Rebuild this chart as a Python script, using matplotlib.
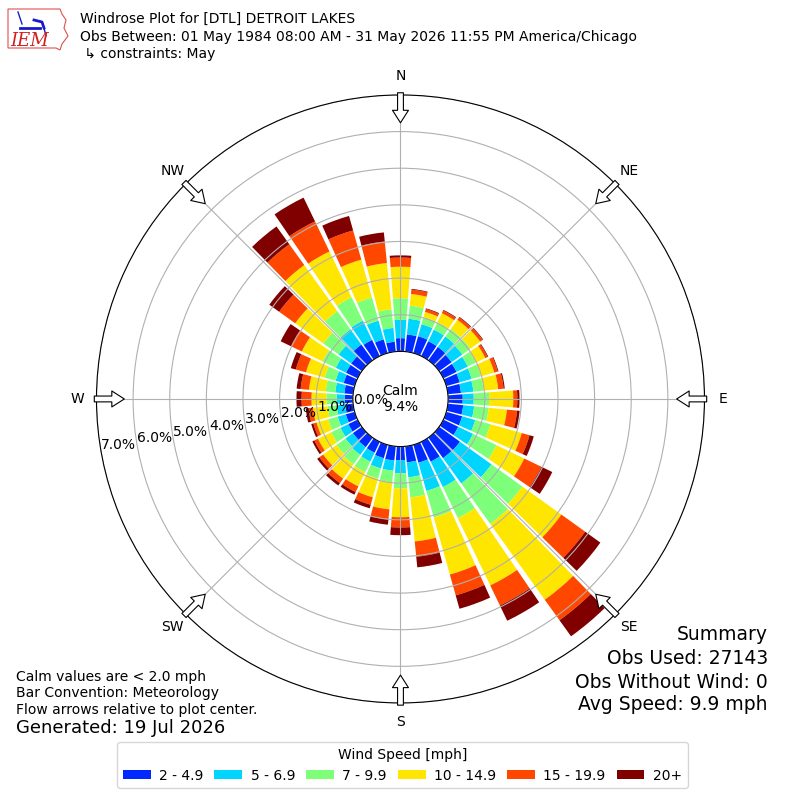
import numpy as np
import matplotlib
matplotlib.use("Agg")
import matplotlib.pyplot as plt
from matplotlib.patches import Patch, Polygon

# wind directions (deg, meteorological) and speed bins
directions = np.arange(0, 360, 10)
bin_labels = ["2 - 4.9", "5 - 6.9", "7 - 9.9", "10 - 14.9", "15 - 19.9", "20+"]

# cumulative frequency [%] up to the top of each speed bin, per direction
cum_2_5 = [.36, .47, .48, .45, .45, .42, .40, .38, .36, .40, .42, .45, .45, .70, .69, .60, .51, .44,
           .37, .39, .38, .33, .32, .30, .28, .25, .22, .22, .24, .31, .35, .36, .53, .49, .39, .27]
cum_5_7 = [.86, .90, .82, .80, .80, .78, .74, .72, .70, .70, .72, .82, .90, 1.76, 1.54, 1.37, 1.31, .85,
           .73, .67, .67, .60, .58, .55, .52, .48, .45, .44, .49, .54, .66, .78, 1.04, 1.07, .92, .65]
cum_7_10 = [1.45, 1.26, 1.02, 1.02, 1.05, 1.05, .98, .98, .98, 1.12, 1.12, 1.25, 1.61, 2.80, 2.90, 2.31, 2.06, 1.40,
            1.14, .99, .96, .92, .90, .85, .80, .75, .70, .72, .75, .85, 1.06, 1.29, 1.65, 1.78, 1.58, 1.16]
cum_10_15 = [2.31, 1.58, 1.17, 1.30, 1.36, 1.38, 1.27, 1.36, 1.38, 1.78, 1.62, 2.14, 2.45, 4.11, 5.45, 4.35, 3.68, 2.61,
             1.93, 1.73, 1.49, 1.35, 1.38, 1.30, 1.20, 1.08, 1.10, 1.13, 1.21, 1.38, 1.69, 2.24, 3.20, 3.17, 2.65, 2.43]
cum_15_20 = [2.56, 1.70, 1.25, 1.38, 1.44, 1.46, 1.34, 1.46, 1.53, 1.89, 1.90, 2.36, 2.97, 4.91, 6.14, 4.96, 4.27, 3.03,
             2.21, 2.01, 1.70, 1.52, 1.53, 1.43, 1.31, 1.17, 1.22, 1.40, 1.44, 1.67, 2.02, 2.78, 3.90, 4.08, 3.48, 3.02]
cum_20p = [2.62, 1.72, 1.27, 1.40, 1.46, 1.48, 1.36, 1.48, 1.56, 1.95, 1.97, 2.48, 3.30, 5.42, 6.68, 5.42, 4.65, 3.32,
           2.42, 2.15, 1.80, 1.60, 1.61, 1.50, 1.37, 1.23, 1.30, 1.54, 1.55, 1.81, 2.33, 3.11, 4.50, 4.80, 3.89, 3.27]

calm_pct = 9.4
ring_ticks = [0, 1, 2, 3, 4, 5, 6, 7]
compass = ["N", "NE", "E", "SE", "S", "SW", "W", "NW"]

colors = plt.cm.jet(np.linspace(0, 1, 7)[1:])

fig = plt.figure(figsize=(8, 8), dpi=100)
ax = fig.add_axes([0.1206, 0.1213, 0.76, 0.76], projection="polar")
ax.set_theta_zero_location("N")
ax.set_theta_direction(-1)

theta = np.deg2rad(directions)
cums = [cum_2_5, cum_5_7, cum_7_10, cum_10_15, cum_15_20, cum_20p]
bottom = np.zeros(len(directions))
for c, col in zip(cums, colors):
    top = np.array(c)
    ax.bar(theta, top - bottom, width=np.deg2rad(10) * 0.86, bottom=bottom,
           color=col, linewidth=0)
    bottom = top

ax.set_ylim(0, 7)
ax.set_rorigin(-1.30)
ax.set_yticks(ring_ticks)
ax.set_yticklabels(["%.1f%%" % v for v in ring_ticks])
ax.set_rlabel_position(260)
ax.set_thetagrids(np.arange(0, 360, 45), compass)
ax.tick_params(axis="x", pad=3)
ax.grid(True, color="#b0b0b0", lw=0.8)
ax.spines["polar"].set_color("black")
ax.spines["inner"].set_color("black")

ax.text(0.5, 0.5, "Calm\n%.1f%%" % calm_pct, transform=ax.transAxes,
        ha="center", va="center", fontsize=10)

# flow arrows at the edge
for d in range(0, 360, 45):
    ax.annotate("", xy=(np.deg2rad(d), 6.24), xytext=(np.deg2rad(d), 7.06),
                arrowprops=dict(arrowstyle="simple,head_length=0.9,head_width=1.15,tail_width=0.42",
                                fc="white", ec="black", lw=0.8, shrinkA=0, shrinkB=0,
                                mutation_scale=10),
                annotation_clip=False, zorder=5)

# header
fig.text(0.10, 1 - 19 / 800, "Windrose Plot for [DTL] DETROIT LAKES", fontsize=10, va="center")
fig.text(0.10, 1 - 37 / 800, "Obs Between: 01 May 1984 08:00 AM - 31 May 2026 11:55 PM America/Chicago",
         fontsize=10, va="center")
fig.text(0.10, 1 - 54 / 800, " \u21b3 constraints: May", fontsize=10, va="center")

# logo
lax = fig.add_axes([0, 1 - 52 / 800, 72 / 800, 52 / 800])
lax.set_xlim(0, 72)
lax.set_ylim(52, 0)
lax.axis("off")
lax.add_patch(Polygon([(8, 9), (60, 9), (62, 14), (66, 20), (64, 28), (68, 36), (62, 44),
                       (60, 50), (56, 48), (8, 48)], closed=True, fill=False, ec="#e05050", lw=0.8))
lax.plot([20, 40], [28, 28], color="#1a1acc", lw=2)
lax.plot([18, 22], [12, 24], color="#1a1acc", lw=1)
lax.plot([34, 42, 44], [20, 22, 28], color="#1a1acc", lw=2)
lax.plot([44, 46], [28, 36], color="#1a1acc", lw=1)
lax.text(30, 41, "IEM", color="#d02020", fontsize=13, fontstyle="italic", family="DejaVu Serif",
         ha="center", va="center")

# notes
fig.text(0.02, 1 - 677 / 800, "Calm values are < 2.0 mph", fontsize=10, va="center")
fig.text(0.02, 1 - 693 / 800, "Bar Convention: Meteorology", fontsize=10, va="center")
fig.text(0.02, 1 - 710 / 800, "Flow arrows relative to plot center.", fontsize=10, va="center")
fig.text(0.02, 1 - 728 / 800, "Generated: 19 Jul 2026", fontsize=13, va="center")

fig.text(0.96, 1 - 635 / 800, "Summary", fontsize=13.5, ha="right", va="center")
fig.text(0.96, 1 - 659 / 800, "Obs Used: 27143", fontsize=13.5, ha="right", va="center")
fig.text(0.96, 1 - 682 / 800, "Obs Without Wind: 0", fontsize=13.5, ha="right", va="center")
fig.text(0.96, 1 - 705 / 800, "Avg Speed: 9.9 mph", fontsize=13.5, ha="right", va="center")

handles = [Patch(facecolor=c, label=l) for c, l in zip(colors, bin_labels)]
fig.legend(handles=handles, loc="upper center", bbox_to_anchor=(0.503, 1 - 742 / 800), ncol=6,
           title="Wind Speed [mph]", fontsize=10, title_fontsize=10, handlelength=2.0,
           handleheight=0.6, handletextpad=0.6, columnspacing=0.8, borderpad=0.4,
           borderaxespad=0)

fig.savefig("out.png", dpi=100)
